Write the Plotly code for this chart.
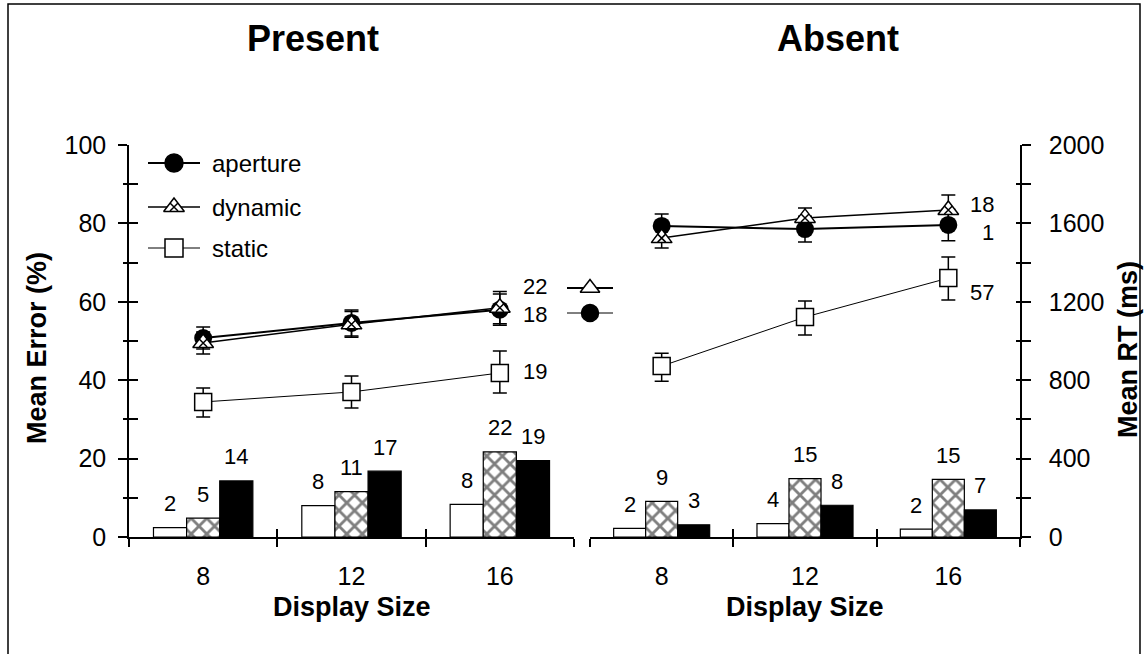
import plotly.graph_objects as go

# ---------------- data ----------------
display_sizes = ["8", "12", "16"]
conditions = ["static", "dynamic", "aperture"]

# mean error (%) bars
err_present_static = [2.4, 8.0, 8.3]
err_present_dynamic = [4.8, 11.6, 21.7]
err_present_aperture = [14.3, 16.8, 19.5]
err_absent_static = [2.2, 3.4, 2.0]
err_absent_dynamic = [9.1, 14.9, 14.7]
err_absent_aperture = [3.1, 8.1, 6.9]

# printed bar labels
lab_present_static = ["2", "8", "8"]
lab_present_dynamic = ["5", "11", "22"]
lab_present_aperture = ["14", "17", "19"]
lab_absent_static = ["2", "4", "2"]
lab_absent_dynamic = ["9", "15", "15"]
lab_absent_aperture = ["3", "8", "7"]

# mean RT (ms) lines with error bars
rt_present_aperture = [1015, 1092, 1160]
rt_present_dynamic = [990, 1085, 1170]
rt_present_static = [689, 740, 837]
rt_absent_aperture = [1587, 1571, 1592]
rt_absent_dynamic = [1525, 1628, 1668]
rt_absent_static = [872, 1122, 1321]

se_present_aperture = [56, 66, 80]
se_present_dynamic = [56, 66, 82]
se_present_static_up = [71, 82, 112]
se_present_static_dn = [77, 82, 102]
se_absent_aperture = [61, 66, 80]
se_absent_dynamic = [51, 51, 77]
se_absent_static_up = [66, 82, 107]
se_absent_static_dn = [77, 92, 112]

# numbers printed at the right end of the lines
end_present = ["22", "18", "19"]
end_present_rt = [1276, 1133, 842]
end_absent = ["18", "1", "57"]
end_absent_rt = [1694, 1551, 1250]

panel_titles = ["Present", "Absent"]
y_left_title = "Mean Error (%)"
y_right_title = "Mean RT (ms)"
x_title = "Display Size"

# ---------------- layout helpers ----------------
W, H = 1146, 654
def px(x):
    return x / W
def py(y):
    return 1 - y / H

FONT = "Arial, Liberation Sans, sans-serif"
BARGAP = 0.33
BAR_W = (1 - BARGAP) / 3
X_LEFT = [px(129), px(574)]
X_RIGHT = [px(590), px(1020)]
Y_DOM = [py(537), py(145)]

fig = go.Figure()

def add_bars(xa, ya, s, d, a):
    fig.add_trace(go.Bar(x=display_sizes, y=s, xaxis=xa, yaxis=ya,
                         marker=dict(color="white", line=dict(color="black", width=1.2)),
                         showlegend=False, hoverinfo="skip"))
    fig.add_trace(go.Bar(x=display_sizes, y=d, xaxis=xa, yaxis=ya,
                         marker=dict(color="white", line=dict(color="black", width=1.2),
                                     pattern=dict(shape="x", fgcolor="black", bgcolor="white",
                                                  size=11, solidity=0.45)),
                         showlegend=False, hoverinfo="skip"))
    fig.add_trace(go.Bar(x=display_sizes, y=a, xaxis=xa, yaxis=ya,
                         marker=dict(color="black", line=dict(color="black", width=1.2)),
                         showlegend=False, hoverinfo="skip"))

add_bars("x", "y", err_present_static, err_present_dynamic, err_present_aperture)
add_bars("x2", "y3", err_absent_static, err_absent_dynamic, err_absent_aperture)

def eb(up, dn=None):
    d = dict(type="data", array=up, color="black", thickness=1.5, width=7, visible=True)
    if dn is not None:
        d["symmetric"] = False
        d["arrayminus"] = dn
    return d

def add_lines(xa, ya, ap, ap_se, dy, dy_se, st, st_up, st_dn):
    fig.add_trace(go.Scatter(x=display_sizes, y=st, xaxis=xa, yaxis=ya, mode="lines+markers",
                             line=dict(color="black", width=1),
                             marker=dict(symbol="square", size=17, color="white",
                                         line=dict(color="black", width=1.5)),
                             error_y=eb(st_up, st_dn), showlegend=False, hoverinfo="skip"))
    fig.add_trace(go.Scatter(x=display_sizes, y=ap, xaxis=xa, yaxis=ya, mode="lines+markers",
                             line=dict(color="black", width=2),
                             marker=dict(symbol="circle", size=18, color="black"),
                             error_y=eb(ap_se), showlegend=False, hoverinfo="skip"))
    fig.add_trace(go.Scatter(x=display_sizes, y=dy, xaxis=xa, yaxis=ya, mode="lines+markers",
                             line=dict(color="black", width=1.5),
                             marker=dict(symbol="triangle-up", size=18, color="white",
                                         line=dict(color="black", width=1.5)),
                             error_y=eb(dy_se), showlegend=False, hoverinfo="skip"))
    fig.add_trace(go.Scatter(x=display_sizes, y=dy, xaxis=xa, yaxis=ya, mode="markers",
                             marker=dict(symbol="x-thin", size=8,
                                         line=dict(color="black", width=1.5)),
                             showlegend=False, hoverinfo="skip"))

add_lines("x", "y2", rt_present_aperture, se_present_aperture, rt_present_dynamic,
          se_present_dynamic, rt_present_static, se_present_static_up, se_present_static_dn)
add_lines("x2", "y4", rt_absent_aperture, se_absent_aperture, rt_absent_dynamic,
          se_absent_dynamic, rt_absent_static, se_absent_static_up, se_absent_static_dn)

# empty traces so the tick-overlay axes are drawn
fig.add_trace(go.Scatter(x=[], y=[], xaxis="x3", yaxis="y", showlegend=False))
fig.add_trace(go.Scatter(x=[], y=[], xaxis="x4", yaxis="y3", showlegend=False))

# ---------------- custom legend (overlay axis in paper units) ----------------
legend_rows = [
    dict(name="aperture", y=py(163), sym="circle", fill="black", lw=2.2),
    dict(name="dynamic", y=py(207), sym="triangle-up", fill="white", lw=1.6),
    dict(name="static", y=py(248), sym="square", fill="white", lw=1),
]
lx0, lxm, lx1 = px(148), px(174), px(200)
for r in legend_rows:
    fig.add_trace(go.Scatter(x=[lx0, lx1], y=[r["y"], r["y"]], xaxis="x5", yaxis="y5",
                             mode="lines", line=dict(color="black", width=r["lw"]),
                             showlegend=False, hoverinfo="skip"))
    fig.add_trace(go.Scatter(x=[lxm], y=[r["y"]], xaxis="x5", yaxis="y5", mode="markers",
                             marker=dict(symbol=r["sym"], size=18, color=r["fill"],
                                         line=dict(color="black", width=1.5)),
                             showlegend=False, hoverinfo="skip"))
    if r["name"] == "dynamic":
        fig.add_trace(go.Scatter(x=[lxm], y=[r["y"]], xaxis="x5", yaxis="y5", mode="markers",
                                 marker=dict(symbol="x-thin", size=8,
                                             line=dict(color="black", width=1.5)),
                                 showlegend=False, hoverinfo="skip"))
    fig.add_annotation(x=px(210), y=r["y"], xref="paper", yref="paper", text=r["name"],
                       showarrow=False, xanchor="left", yanchor="middle",
                       font=dict(family=FONT, size=24, color="black"))

# key between panels
key_rows = [
    dict(y=py(288), sym="triangle-up", fill="white", lw=2),
    dict(y=py(313), sym="circle", fill="black", lw=1),
]
kx0, kxm, kx1 = px(567), px(590), px(613)
for r in key_rows:
    fig.add_trace(go.Scatter(x=[kx0, kx1], y=[r["y"], r["y"]], xaxis="x5", yaxis="y5",
                             mode="lines", line=dict(color="black", width=r["lw"]),
                             showlegend=False, hoverinfo="skip"))
    fig.add_trace(go.Scatter(x=[kxm], y=[r["y"]], xaxis="x5", yaxis="y5", mode="markers",
                             marker=dict(symbol=r["sym"], size=17, color=r["fill"],
                                         line=dict(color="black", width=1.5)),
                             showlegend=False, hoverinfo="skip"))

# ---------------- annotations ----------------
def bar_labels(xref, yref, vals_list, labs_list):
    for k, (vals, labs) in enumerate(zip(vals_list, labs_list)):
        off = (k - 1) * BAR_W
        for i, (v, t) in enumerate(zip(vals, labs)):
            fig.add_annotation(x=i + off, y=v, xref=xref, yref=yref, text=t, showarrow=False,
                               yshift=24, xanchor="center", yanchor="middle",
                               font=dict(family=FONT, size=22, color="black"))

bar_labels("x", "y", [err_present_static, err_present_dynamic, err_present_aperture],
           [lab_present_static, lab_present_dynamic, lab_present_aperture])
bar_labels("x2", "y3", [err_absent_static, err_absent_dynamic, err_absent_aperture],
           [lab_absent_static, lab_absent_dynamic, lab_absent_aperture])

for xref, yref, labs, ys in [("x", "y2", end_present, end_present_rt),
                             ("x2", "y4", end_absent, end_absent_rt)]:
    for t, v in zip(labs, ys):
        fig.add_annotation(x=2.33, y=v, xref=xref, yref=yref, text=t, showarrow=False,
                           xanchor="right", yanchor="middle",
                           font=dict(family=FONT, size=22, color="black"))

for t, xc in zip(panel_titles, [px(313), px(838)]):
    fig.add_annotation(x=xc, y=py(38), xref="paper", yref="paper", text="<b>%s</b>" % t,
                       showarrow=False, xanchor="center", yanchor="middle",
                       font=dict(family=FONT, size=36, color="black"))

for xr in ["x domain", "x2 domain"]:
    fig.add_annotation(x=0.5, y=py(607), xref=xr, yref="paper", text="<b>%s</b>" % x_title,
                       showarrow=False, xanchor="center", yanchor="middle",
                       font=dict(family=FONT, size=27, color="black"))

fig.add_annotation(x=px(37), y=py(348), xref="paper", yref="paper",
                   text="<b>%s</b>" % y_left_title, textangle=-90, showarrow=False,
                   xanchor="center", yanchor="middle", font=dict(family=FONT, size=27, color="black"))
fig.add_annotation(x=px(1128), y=py(350), xref="paper", yref="paper",
                   text="<b>%s</b>" % y_right_title, textangle=-90, showarrow=False,
                   xanchor="center", yanchor="middle", font=dict(family=FONT, size=27, color="black"))

# outer frame
fig.add_shape(type="path", xref="paper", yref="paper",
              path="M %f,%f L %f,%f L %f,%f L %f,%f" % (px(8), -0.05, px(8), py(4),
                                                        px(1140), py(4), px(1140), -0.05),
              line=dict(color="black", width=1.5))

# ---------------- axes ----------------
tickfont = dict(family=FONT, size=25, color="black")
xcommon = dict(type="category", categoryorder="array", categoryarray=display_sizes,
               range=[-0.5, 2.5], tickson="boundaries", ticks="outside", ticklen=8,
               tickwidth=1.5, tickcolor="black", showline=True, linewidth=1.5,
               linecolor="black", tickfont=tickfont, ticklabelstandoff=16,
               showgrid=False, zeroline=False, fixedrange=True, automargin=False)
xover = dict(type="linear", range=[-0.5, 2.5], tickvals=[-0.5, 0.5, 1.5, 2.5],
             ticks="inside", ticklen=8, tickwidth=1.5, tickcolor="black",
             showticklabels=False, showline=False, showgrid=False, zeroline=False,
             automargin=False)

rt_ticks = list(range(0, 2001, 200))
rt_text = [str(v) if v % 400 == 0 else "" for v in rt_ticks]

fig.update_layout(
    width=W, height=H,
    margin=dict(l=0, r=0, t=0, b=0, pad=0, autoexpand=False),
    paper_bgcolor="white", plot_bgcolor="rgba(0,0,0,0)",
    barmode="group", bargap=BARGAP, bargroupgap=0,
    showlegend=False,
    font=dict(family=FONT, color="black"),
    xaxis=dict(domain=X_LEFT, anchor="y", **xcommon),
    xaxis2=dict(domain=X_RIGHT, anchor="y3", **xcommon),
    xaxis3=dict(domain=X_LEFT, anchor="y", overlaying="x", **xover),
    xaxis4=dict(domain=X_RIGHT, anchor="y3", overlaying="x2", **xover),
    xaxis5=dict(domain=[0, 1], range=[0, 1], anchor="y5", visible=False, fixedrange=True,
                automargin=False),
    yaxis=dict(domain=Y_DOM, anchor="x", range=[0, 100], tick0=0, dtick=20,
               ticks="outside", ticklen=9, tickwidth=1.5, tickcolor="black",
               minor=dict(ticks="outside", ticklen=4, dtick=10, tickwidth=1.5, tickcolor="black"),
               showline=True, linewidth=1.5, linecolor="black", tickfont=tickfont,
               ticklabelstandoff=7, showgrid=False, zeroline=False, fixedrange=True,
               automargin=False),
    yaxis2=dict(overlaying="y", anchor="x", side="left", range=[0, 2000], tick0=0, dtick=200,
                ticks="inside", ticklen=9, tickwidth=1.5, tickcolor="black",
                showticklabels=False, showline=False, showgrid=False, zeroline=False,
                fixedrange=True, automargin=False),
    yaxis3=dict(domain=Y_DOM, anchor="x2", side="right", range=[0, 100], tick0=0, dtick=10,
                ticks="inside", ticklen=4, tickwidth=1.5, tickcolor="black",
                showticklabels=False, showline=False, showgrid=False, zeroline=False,
                fixedrange=True, automargin=False),
    yaxis4=dict(overlaying="y3", anchor="x2", side="right", range=[0, 2000],
                tickvals=rt_ticks, ticktext=rt_text, ticks="outside", ticklen=9,
                tickwidth=1.5, tickcolor="black", showline=True, linewidth=1.5,
                linecolor="black", tickfont=tickfont, ticklabelstandoff=13,
                showgrid=False, zeroline=False, fixedrange=True, automargin=False),
    yaxis5=dict(domain=[0, 1], range=[0, 1], anchor="x5", visible=False, fixedrange=True,
                automargin=False),
)

fig.write_html("out.html", config={"displayModeBar": False},
               post_script="document.body.style.margin='0';document.body.style.overflow='hidden';")
